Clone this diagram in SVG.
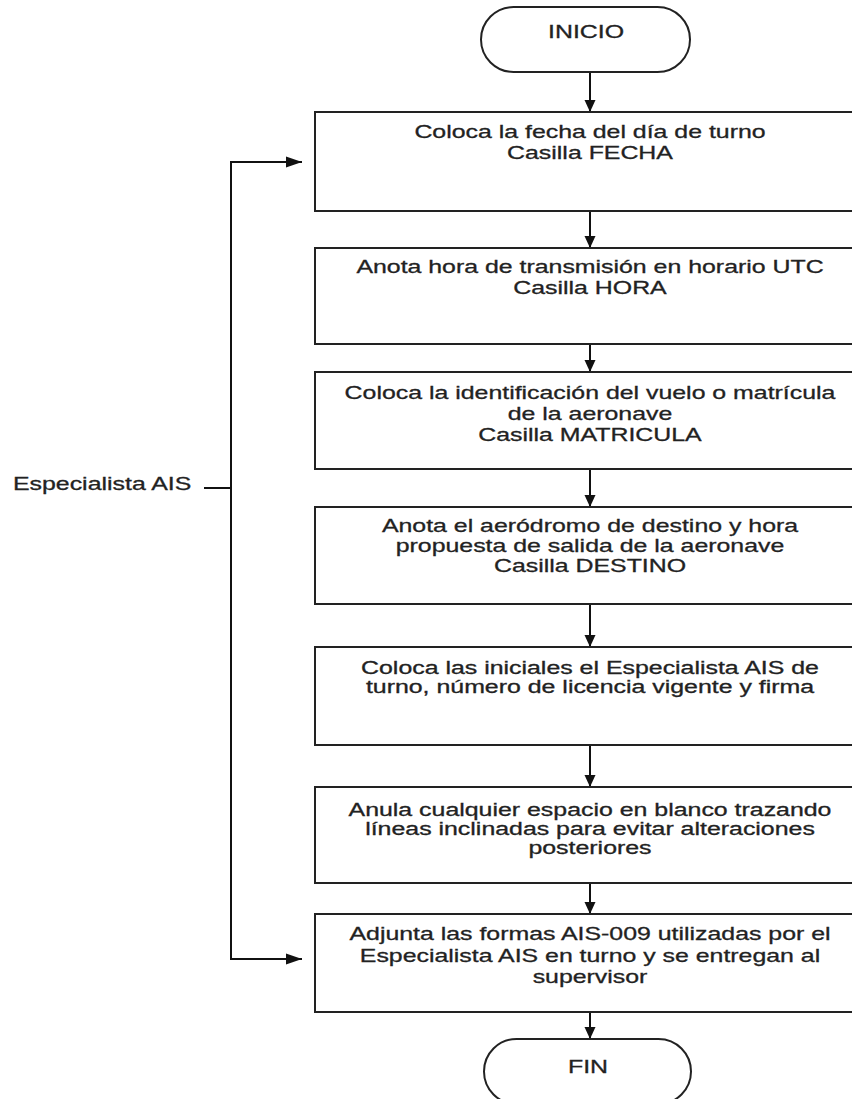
<svg xmlns="http://www.w3.org/2000/svg" width="852" height="1099" viewBox="0 0 852 1099">
<style>
.box{fill:#fff;stroke:#222;stroke-width:2}
.t{font-family:"Liberation Sans",Arial,sans-serif;font-size:19px;fill:#222;stroke:#222;stroke-width:0.3;text-anchor:middle}
.s{font-size:18px}
.l{font-family:"Liberation Sans",Arial,sans-serif;font-size:19px;fill:#222;stroke:#222;stroke-width:0.3}
.c{fill:none;stroke:#111;stroke-width:2}
</style>
<defs>
<marker id="ah" markerUnits="userSpaceOnUse" markerWidth="12" markerHeight="12" refX="12" refY="6" orient="auto">
<path d="M0,0.5 L12,6 L0,11.5 z" fill="#111"/>
</marker>
<marker id="ah2" markerUnits="userSpaceOnUse" markerWidth="16" markerHeight="12" refX="16" refY="6" orient="auto">
<path d="M0,0.5 L16,6 L0,11.5 z" fill="#111"/>
</marker>
</defs>
<rect width="852" height="1099" fill="#fff"/>
<g id="connectors">
<line class="c" x1="590" y1="72" x2="590" y2="112" marker-end="url(#ah)"/>
<line class="c" x1="590" y1="211" x2="590" y2="248" marker-end="url(#ah)"/>
<line class="c" x1="590" y1="344" x2="590" y2="372" marker-end="url(#ah)"/>
<line class="c" x1="590" y1="469" x2="590" y2="507" marker-end="url(#ah)"/>
<line class="c" x1="590" y1="604" x2="590" y2="647" marker-end="url(#ah)"/>
<line class="c" x1="590" y1="745" x2="590" y2="787" marker-end="url(#ah)"/>
<line class="c" x1="590" y1="883" x2="590" y2="914" marker-end="url(#ah)"/>
<line class="c" x1="590" y1="1012" x2="590" y2="1039" marker-end="url(#ah)"/>
<polyline class="c" points="302,162 231,162 231,959 302,959"/>
<line class="c" x1="231" y1="162" x2="302" y2="162" marker-end="url(#ah2)"/>
<line class="c" x1="231" y1="959" x2="302" y2="959" marker-end="url(#ah2)"/>
<line class="c" x1="204" y1="488" x2="231" y2="488"/>
</g>
<g id="inicio">
<rect class="box" x="481" y="7" width="209" height="65" rx="32.5"/>
<text class="t" transform="translate(586,38) scale(1.31,1)">INICIO</text>
</g>
<g id="paso1">
<rect class="box" x="315" y="112" width="552" height="99"/>
<text class="t" transform="translate(590,138) scale(1.31,1)">Coloca la fecha del día de turno</text>
<text class="t" transform="translate(590,159) scale(1.31,1)">Casilla FECHA</text>
</g>
<g id="paso2">
<rect class="box" x="315" y="248" width="552" height="96"/>
<text class="t" transform="translate(590,273) scale(1.31,1)">Anota hora de transmisión en horario UTC</text>
<text class="t" transform="translate(590,294) scale(1.31,1)">Casilla HORA</text>
</g>
<g id="paso3">
<rect class="box" x="315" y="372" width="552" height="97"/>
<text class="t" transform="translate(590,399) scale(1.31,1)">Coloca la identificación del vuelo o matrícula</text>
<text class="t" transform="translate(590,420) scale(1.31,1)">de la aeronave</text>
<text class="t" transform="translate(590,441) scale(1.31,1)">Casilla MATRICULA</text>
</g>
<g id="paso4">
<rect class="box" x="315" y="507" width="552" height="97"/>
<text class="t" transform="translate(590,532) scale(1.31,1)">Anota el aeródromo de destino y hora</text>
<text class="t" transform="translate(590,552) scale(1.31,1)">propuesta de salida de la aeronave</text>
<text class="t" transform="translate(590,572) scale(1.31,1)">Casilla DESTINO</text>
</g>
<g id="paso5">
<rect class="box" x="315" y="647" width="552" height="98"/>
<text class="t s" transform="translate(590,674) scale(1.383,1)">Coloca las iniciales el Especialista AIS de</text>
<text class="t s" transform="translate(590,693) scale(1.383,1)">turno, número de licencia vigente y firma</text>
</g>
<g id="paso6">
<rect class="box" x="315" y="787" width="552" height="96"/>
<text class="t s" transform="translate(590,816) scale(1.383,1)">Anula cualquier espacio en blanco trazando</text>
<text class="t s" transform="translate(590,835) scale(1.383,1)">líneas inclinadas para evitar alteraciones</text>
<text class="t s" transform="translate(590,854) scale(1.383,1)">posteriores</text>
</g>
<g id="paso7">
<rect class="box" x="315" y="914" width="552" height="98"/>
<text class="t" transform="translate(590,940) scale(1.31,1)">Adjunta las formas AIS-009 utilizadas por el</text>
<text class="t" transform="translate(590,962) scale(1.31,1)">Especialista AIS en turno y se entregan al</text>
<text class="t" transform="translate(590,983) scale(1.31,1)">supervisor</text>
</g>
<g id="fin">
<rect class="box" x="484" y="1039" width="207" height="65" rx="32.5"/>
<text class="t" transform="translate(588,1073) scale(1.31,1)">FIN</text>
</g>
<g id="rol">
<text class="l" transform="translate(13,490) scale(1.31,1)">Especialista AIS</text>
</g>
</svg>
